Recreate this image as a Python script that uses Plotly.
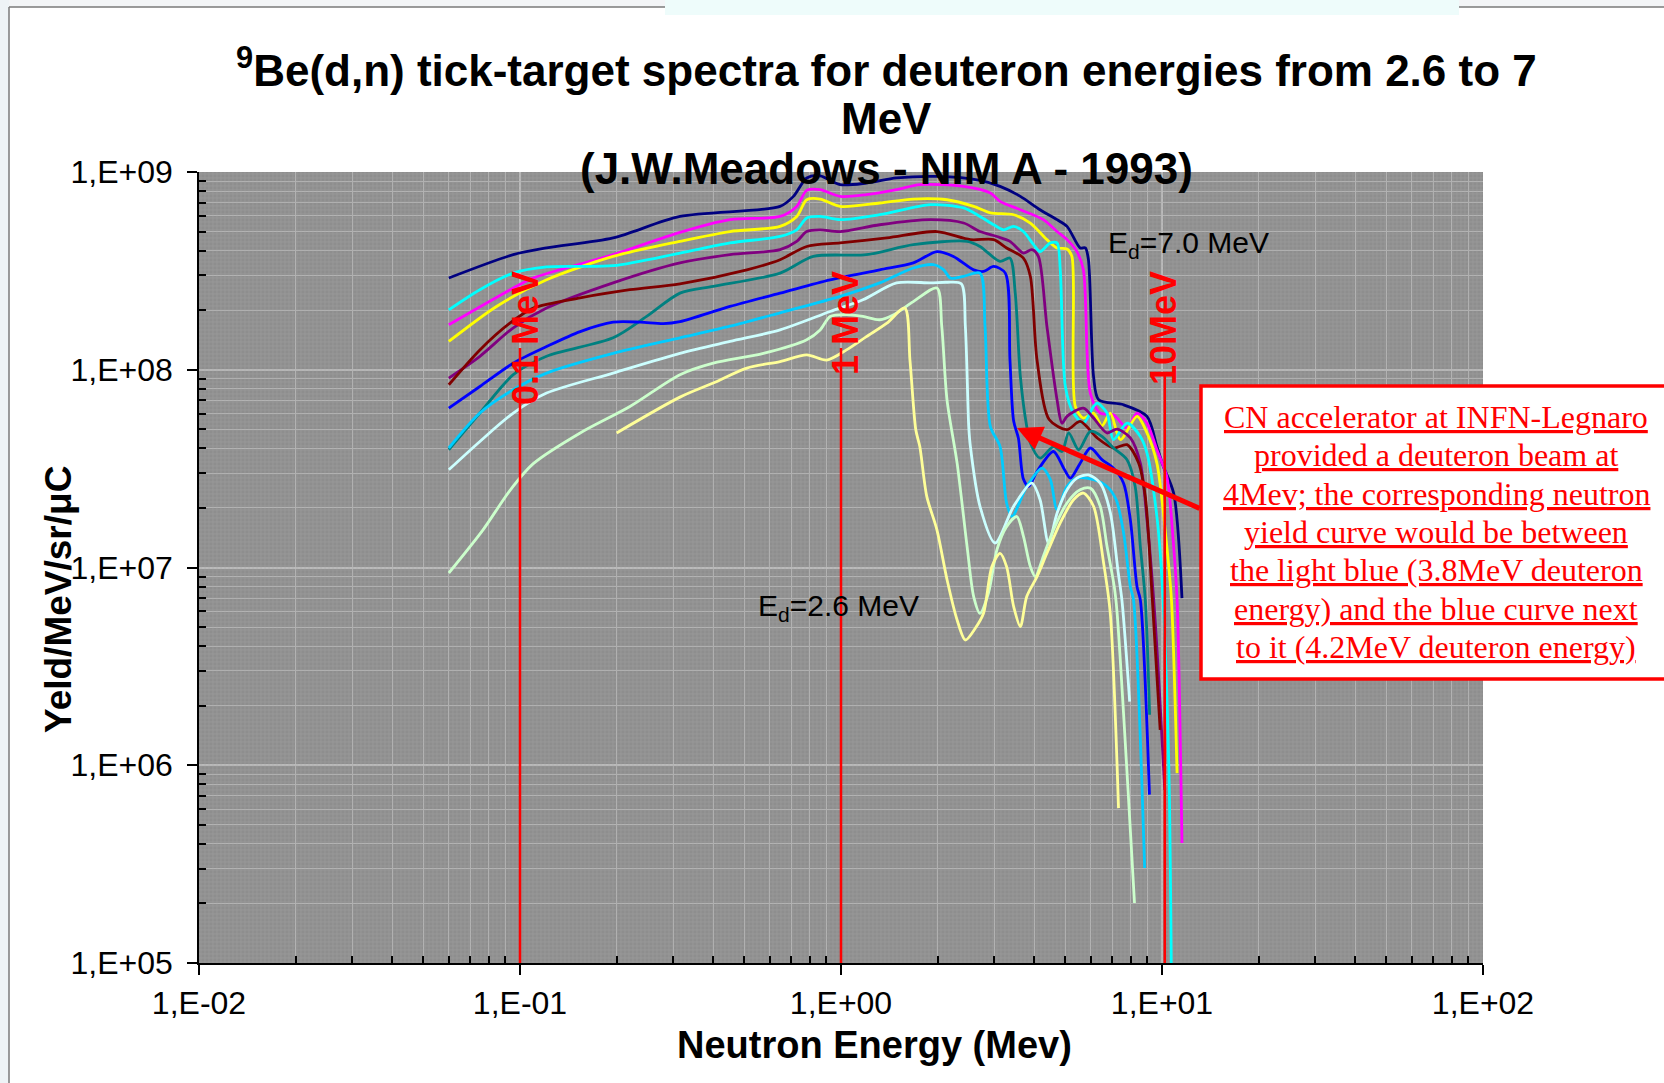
import plotly.graph_objects as go

# ---------------------------------------------------------------------------
# Thick-target 9Be(d,n) neutron yield spectra, one curve per deuteron energy
# ---------------------------------------------------------------------------
deuteron_energies = ["7.0", "6.6", "6.2", "5.8", "5.4", "5.0",
                     "4.6", "4.2", "3.8", "3.4", "3.0", "2.6"]
series_colors = ["#000080", "#FF00FF", "#FFFF00", "#00FFFF", "#800080", "#800000",
                 "#008080", "#0000FF", "#00CCFF", "#CCFFFF", "#CCFFCC", "#FFFF99"]

# neutron energy (MeV) / yield (n/MeV/sr/uC)
e_70 = [0.06, 0.0953, 0.121, 0.195, 0.315, 0.646, 0.711, 0.782, 0.861, 0.994, 1.2, 1.49, 2.0,
        2.71, 3.13, 3.62, 4.17, 4.71, 5.06, 5.56, 5.77, 5.9, 6.12, 6.35, 7.59, 8.98, 9.64,
        10.1, 10.87, 11.54]
y_70 = [2.91e8, 3.82e8, 4.13e8, 4.64e8, 5.96e8, 6.7e8, 7.53e8, 9.33e8, 9.57e8, 8.63e8, 8.79e8,
        9.33e8, 9.5e8, 9.07e8, 8.46e8, 7.53e8, 6.44e8, 5.74e8, 5.31e8, 4.13e8, 4.13e8, 3.6e8,
        9.25e7, 7.05e7, 6.65e7, 5.81e7, 4.09e7, 3.24e7, 2.38e7, 7.0e6]

e_66 = [0.06, 0.0953, 0.11, 0.195, 0.315, 0.451, 0.646, 0.728, 0.782, 0.861, 0.994, 1.2, 1.49,
        1.76, 2.41, 2.92, 3.13, 3.62, 4.27, 4.71, 5.06, 5.43, 5.69, 5.98, 6.42, 7.06, 7.78,
        8.36, 8.98, 9.64, 10.35, 10.87, 11.14, 11.54]
y_66 = [1.69e8, 2.59e8, 2.91e8, 3.82e8, 4.95e8, 5.74e8, 5.96e8, 6.7e8, 8.07e8, 8.14e8, 7.53e8,
        7.68e8, 8.14e8, 8.63e8, 8.46e8, 7.83e8, 7.1e8, 6.44e8, 5.74e8, 5.0e8, 4.55e8, 3.96e8,
        3.2e8, 7.62e7, 6.04e7, 5.92e7, 5.07e7, 6.04e7, 5.37e7, 3.94e7, 2.88e7, 1.28e7, 6.9e6,
        4.04e5]

e_62 = [0.06, 0.0845, 0.121, 0.195, 0.315, 0.451, 0.646, 0.728, 0.782, 0.861, 0.994, 1.32,
        1.68, 2.14, 2.59, 2.92, 3.45, 3.89, 4.38, 4.71, 5.06, 5.24, 5.37, 5.69, 6.12, 6.5,
        6.9, 7.42, 8.36, 8.98, 9.64, 10.35, 10.7, 11.14]
y_62 = [1.39e8, 2.09e8, 2.85e8, 3.74e8, 4.46e8, 5.0e8, 5.31e8, 5.96e8, 7.24e8, 7.3e8, 6.7e8,
        6.97e8, 7.3e8, 7.24e8, 6.7e8, 6.21e8, 6.08e8, 5.52e8, 4.55e8, 4.13e8, 4.08e8, 3.74e8,
        6.52e7, 5.7e7, 6.04e7, 5.2e7, 6.04e7, 4.43e7, 5.81e7, 4.79e7, 3.37e7, 1.28e7, 6.9e6,
        9.12e5]

e_58 = [0.06, 0.075, 0.0953, 0.121, 0.195, 0.315, 0.451, 0.646, 0.728, 0.782, 0.861, 0.994,
        1.32, 1.9, 2.41, 2.71, 2.99, 3.21, 3.45, 3.7, 3.98, 4.17, 4.49, 4.71, 4.82, 5.0, 5.3,
        5.69, 6.12, 6.28, 6.74, 7.06, 7.78, 8.56, 8.98, 9.64, 10.0, 10.5, 10.7]
y_58 = [2.01e8, 2.54e8, 3.08e8, 3.31e8, 3.36e8, 3.89e8, 4.38e8, 4.72e8, 5.1e8, 5.85e8, 5.96e8,
        5.74e8, 6.08e8, 6.84e8, 6.58e8, 5.96e8, 5.41e8, 5.1e8, 5.31e8, 5.0e8, 4.29e8, 3.96e8,
        4.38e8, 4.38e8, 3.2e8, 8.23e7, 6.04e7, 5.37e7, 6.52e7, 6.78e7, 6.04e7, 4.43e7, 5.37e7,
        4.6e7, 3.79e7, 1.81e7, 8.67e6, 9.84e5, 7.7e4]

e_54 = [0.06, 0.075, 0.0953, 0.121, 0.195, 0.315, 0.451, 0.646, 0.728, 0.782, 0.861, 0.994,
        1.32, 1.9, 2.41, 2.71, 3.06, 3.36, 3.7, 3.93, 4.12, 4.38, 4.71, 4.88, 5.06, 5.69, 6.12,
        6.74, 7.24, 7.97, 8.56, 8.98, 9.52, 10.2]
y_54 = [9.08e7, 1.17e8, 1.63e8, 2.05e8, 2.75e8, 3.47e8, 3.82e8, 4.05e8, 4.46e8, 5.0e8, 5.1e8,
        5.0e8, 5.41e8, 5.74e8, 5.52e8, 5.0e8, 4.72e8, 4.46e8, 3.89e8, 4.05e8, 3.74e8, 1.66e8,
        7.05e7, 5.37e7, 5.81e7, 6.4e7, 5.7e7, 4.79e7, 5.01e7, 4.52e7, 3.37e7, 1.74e7, 5.4e6,
        7.5e5]

e_50 = [0.06, 0.075, 0.093, 0.11, 0.154, 0.22, 0.315, 0.509, 0.646, 0.782, 0.994, 1.39, 1.99,
        2.53, 2.99, 3.28, 3.7, 3.89, 4.08, 4.45, 5.06, 5.56, 6.28, 7.06, 7.78, 8.46, 8.87,
        9.33, 9.87]
y_50 = [8.4e7, 1.26e8, 1.72e8, 2.05e8, 2.31e8, 2.54e8, 2.72e8, 3.2e8, 3.6e8, 4.2e8, 4.38e8,
        4.64e8, 5.0e8, 4.55e8, 4.55e8, 4.13e8, 3.67e8, 2.96e8, 1.12e8, 5.6e7, 4.98e7, 5.48e7,
        4.52e7, 4.02e7, 4.18e7, 3.37e7, 2.29e7, 6.9e6, 1.51e6]

e_46 = [0.06, 0.075, 0.0953, 0.121, 0.195, 0.248, 0.315, 0.4, 0.646, 0.82, 1.2, 1.68, 2.47,
        2.71, 3.13, 3.36, 3.49, 3.62, 3.79, 3.89, 4.17, 4.59, 4.88, 5.12, 5.5, 5.98, 6.5, 7.06,
        7.78, 8.25, 8.56, 8.87, 9.15]
y_46 = [3.94e7, 6.04e7, 9.44e7, 1.17e8, 1.45e8, 1.86e8, 2.44e8, 2.64e8, 3.08e8, 3.74e8, 3.82e8,
        4.29e8, 4.46e8, 4.2e8, 3.53e8, 3.67e8, 2.44e8, 9.25e7, 5.16e7, 4.26e7, 3.57e7, 4.09e7,
        3.86e7, 4.79e7, 3.94e7, 4.88e7, 4.6e7, 4.02e7, 3.51e7, 2.57e7, 1.28e7, 6.87e6, 1.8e6]

e_42 = [0.06, 0.075, 0.0953, 0.121, 0.154, 0.195, 0.237, 0.28, 0.315, 0.451, 0.646, 0.925,
        1.32, 1.68, 1.99, 2.24, 2.59, 2.78, 2.99, 3.25, 3.36, 3.45, 3.57, 3.7, 3.84, 4.08,
        4.59, 4.94, 5.18, 5.56, 5.98, 6.5, 7.06, 7.59, 7.97, 8.36, 8.56, 9.14]
y_42 = [6.4e7, 8.23e7, 1.08e8, 1.31e8, 1.56e8, 1.74e8, 1.74e8, 1.71e8, 1.75e8, 2.09e8, 2.44e8,
        2.85e8, 3.2e8, 3.47e8, 3.96e8, 3.74e8, 3.2e8, 3.14e8, 3.33e8, 3.08e8, 1.12e8, 5.5e7,
        4.5e7, 2.8e7, 2.57e7, 3.06e7, 3.86e7, 3.18e7, 2.83e7, 3.37e7, 4.02e7, 3.51e7, 3.18e7,
        2.67e7, 1.74e7, 8.0e6, 6.87e6, 7.1e5]

e_38 = [0.06, 0.075, 0.0953, 0.121, 0.195, 0.315, 0.451, 0.646, 0.994, 1.32, 1.68, 1.94, 2.09,
        2.19, 2.41, 2.71, 2.81, 2.92, 3.13, 3.28, 3.41, 3.79, 4.23, 4.49, 4.71, 5.06, 5.43,
        6.12, 6.74, 7.2, 7.59, 7.97, 8.15, 8.83]
y_38 = [4.02e7, 6.04e7, 7.93e7, 9.62e7, 1.21e8, 1.45e8, 1.66e8, 1.94e8, 2.35e8, 2.75e8, 3.27e8,
        3.4e8, 3.2e8, 2.91e8, 2.97e8, 3.08e8, 1.66e8, 5.16e7, 4.09e7, 2.12e7, 1.81e7, 2.57e7,
        3.18e7, 2.78e7, 1.96e7, 2.57e7, 2.83e7, 2.78e7, 2.57e7, 2.2e7, 1.5e7, 8.0e6, 6.87e6,
        3.02e5]

e_34 = [0.06, 0.075, 0.0953, 0.121, 0.195, 0.315, 0.451, 0.646, 0.925, 1.17, 1.49, 1.9, 2.14,
        2.37, 2.44, 2.5, 2.53, 2.71, 3.02, 3.45, 3.93, 4.17, 4.43, 4.71, 5.06, 5.43, 5.9, 6.42,
        6.9, 7.3, 7.5, 7.93]
y_34 = [3.12e7, 4.34e7, 6.04e7, 7.62e7, 9.62e7, 1.21e8, 1.39e8, 1.59e8, 1.97e8, 2.26e8, 2.75e8,
        2.75e8, 2.77e8, 2.72e8, 1.66e8, 5.16e7, 4.09e7, 2.04e7, 1.33e7, 2.04e7, 2.67e7, 2.2e7,
        1.33e7, 1.88e7, 2.47e7, 2.83e7, 2.94e7, 2.67e7, 1.9e7, 9.5e6, 6.87e6, 2.1e6]

e_30 = [0.06, 0.0767, 0.093, 0.11, 0.154, 0.22, 0.315, 0.4, 0.573, 0.782, 0.861, 0.925, 1.04,
        1.17, 1.32, 1.46, 1.68, 1.99, 2.06, 2.14, 2.3, 2.47, 2.59, 2.71, 2.88, 3.06, 3.28,
        3.53, 3.7, 3.89, 4.03, 4.27, 4.59, 5.06, 5.56, 5.98, 6.42, 6.74, 7.1, 7.24, 8.21]
y_30 = [9.38e6, 1.55e7, 2.45e7, 3.35e7, 4.79e7, 6.52e7, 9.44e7, 1.08e8, 1.21e8, 1.42e8, 1.59e8,
        1.86e8, 1.9e8, 1.86e8, 1.79e8, 1.9e8, 2.21e8, 2.59e8, 1.66e8, 7.0e7, 3.37e7, 1.28e7,
        7.13e6, 5.87e6, 7.43e6, 1.23e7, 1.61e7, 1.81e7, 1.44e7, 1.01e7, 9.0e6, 1.14e7, 1.55e7,
        2.12e7, 2.47e7, 2.52e7, 2.04e7, 1.28e7, 8.0e6, 6.0e6, 2.01e5]

e_26 = [0.2, 0.315, 0.4, 0.509, 0.646, 0.782, 0.903, 1.04, 1.2, 1.39, 1.58, 1.64, 1.71, 1.76,
        1.85, 1.99, 2.14, 2.3, 2.44, 2.62, 2.78, 2.95, 3.13, 3.28, 3.45, 3.62, 3.79, 4.08,
        4.38, 4.82, 5.3, 5.69, 6.12, 6.58, 6.9, 7.32]
y_26 = [4.79e7, 7.27e7, 8.57e7, 1.02e8, 1.1e8, 1.19e8, 1.12e8, 1.26e8, 1.47e8, 1.72e8, 2.05e8,
        1.12e8, 4.97e7, 4.09e7, 2.29e7, 1.55e7, 8.67e6, 5.43e6, 4.3e6, 4.93e6, 5.87e6, 1.01e7,
        1.18e7, 1.01e7, 6.35e6, 5.03e6, 7.13e6, 9.0e6, 1.18e7, 1.68e7, 2.2e7, 2.38e7, 2.04e7,
        1.05e7, 5.87e6, 6.07e5]

spectra_e = [e_70, e_66, e_62, e_58, e_54, e_50, e_46, e_42, e_38, e_34, e_30, e_26]
spectra_y = [y_70, y_66, y_62, y_58, y_54, y_50, y_46, y_42, y_38, y_34, y_30, y_26]

# reference neutron energies marked with vertical red lines
marker_energies = [0.1, 1.0, 10.2]
marker_labels = ["0.1 MeV", "1 MeV", "10MeV"]
marker_tops = [1.29e8, 1.29e8, 9.4e7]

x_tick_vals = [0.01, 0.1, 1, 10, 100]
x_tick_text = ["1,E-02", "1,E-01", "1,E+00", "1,E+01", "1,E+02"]
y_tick_vals = [1e5, 1e6, 1e7, 1e8, 1e9]
y_tick_text = ["1,E+05", "1,E+06", "1,E+07", "1,E+08", "1,E+09"]

callout_lines = [
    "CN accelerator at INFN-Legnaro",
    "provided a deuteron beam at",
    "4Mev; the corresponding neutron",
    "yield curve would be between",
    "the light blue (3.8MeV deuteron",
    "energy) and the blue curve next",
    "to it (4.2MeV deuteron energy)",
]

# ---------------------------------------------------------------------------
# Layout geometry (pixels of the 1664 x 1083 page)
# ---------------------------------------------------------------------------
W, H = 1664, 1083
PL, PR, PT, PB = 199, 1483, 172, 963


def fx(px):
    return (px - PL) / (PR - PL)


def fy(py):
    return (PB - py) / (PB - PT)


SANS = "Liberation Sans, Arial, sans-serif"
SERIF = "Liberation Serif, Times New Roman, serif"

fig = go.Figure()

# fine mesh texture of the plot area
x_lo, x_hi = x_tick_vals[0], x_tick_vals[-1]
y_lo, y_hi = y_tick_vals[0], y_tick_vals[-1]
fig.add_trace(go.Scatter(
    x=[x_lo, x_hi, x_hi, x_lo, x_lo], y=[y_lo, y_lo, y_hi, y_hi, y_lo],
    mode="lines", line=dict(width=0), fill="toself",
    fillcolor="rgba(0,0,0,0)",
    fillpattern=dict(shape="+", size=4, solidity=0.35, fgcolor="#a6a6a6",
                     bgcolor="rgba(0,0,0,0)", fillmode="overlay"),
    hoverinfo="skip", showlegend=False))

for ed, col, xs, ys in zip(deuteron_energies, series_colors, spectra_e, spectra_y):
    fig.add_trace(go.Scatter(
        x=xs, y=ys, mode="lines", name=f"Ed={ed} MeV",
        line=dict(color=col, width=2.8, shape="spline", smoothing=0.8),
        showlegend=False))

for xe, yt in zip(marker_energies, marker_tops):
    fig.add_trace(go.Scatter(
        x=[xe, xe], y=[yt, y_lo], mode="lines",
        line=dict(color="#ff0000", width=2.5), hoverinfo="skip", showlegend=False))

minor_x = [k * 10.0 ** p for p in range(-2, 2) for k in range(2, 10)]
minor_y = [k * 10.0 ** p for p in range(5, 9) for k in range(2, 10)]

axis_common = dict(
    type="log", ticks="outside", ticklen=10, tickwidth=1.5, tickcolor="black",
    showline=True, linecolor="black", linewidth=1.5, mirror=False,
    showgrid=True, gridcolor="#bbbbbb", gridwidth=1.6, zeroline=False,
    tickfont=dict(family=SANS, size=32, color="black"),
)

fig.update_layout(
    width=W, height=H, autosize=False,
    margin=dict(l=PL, r=W - PR, t=PT, b=H - PB, pad=0),
    paper_bgcolor="white", plot_bgcolor="#8e8e8e",
    showlegend=False,
    xaxis=dict(axis_common, range=[-2, 2], tickmode="array",
               tickvals=x_tick_vals, ticktext=x_tick_text, ticklabelstandoff=1,
               minor=dict(tickmode="array", tickvals=minor_x, ticks="inside",
                          ticklen=7, tickcolor="black", showgrid=True,
                          gridcolor="#b3b3b3", gridwidth=1.3)),
    yaxis=dict(axis_common, range=[5, 9], tickmode="array",
               tickvals=y_tick_vals, ticktext=y_tick_text, ticklabelstandoff=8,
               minor=dict(tickmode="array", tickvals=minor_y, ticks="inside",
                          ticklen=7, tickcolor="black", showgrid=True,
                          gridcolor="#b3b3b3", gridwidth=1.3)),
)

shapes = [
    # slide background strips and frame
    dict(type="rect", xref="paper", yref="paper", x0=fx(0), x1=fx(9), y0=fy(H), y1=fy(0),
         fillcolor="#eef3f6", line=dict(width=0), layer="below"),
    dict(type="rect", xref="paper", yref="paper", x0=fx(9), x1=fx(W), y0=fy(7), y1=fy(0),
         fillcolor="#f3f5f7", line=dict(width=0), layer="below"),
    dict(type="line", xref="paper", yref="paper", x0=fx(9), x1=fx(W), y0=fy(7), y1=fy(7),
         line=dict(color="#7a7a7a", width=1.5)),
    dict(type="line", xref="paper", yref="paper", x0=fx(9), x1=fx(9), y0=fy(7), y1=fy(H),
         line=dict(color="#7a7a7a", width=1.5)),
    dict(type="rect", xref="paper", yref="paper", x0=fx(665), x1=fx(1459), y0=fy(15), y1=fy(0),
         fillcolor="#eefcfb", line=dict(width=0)),
    # callout box
    dict(type="rect", xref="paper", yref="paper", x0=fx(1201), x1=fx(1676),
         y0=fy(679), y1=fy(386), fillcolor="white", line=dict(color="#ff0000", width=3.5)),
]
fig.update_layout(shapes=shapes)

ann = []
# chart title
title_lines = [
    ("<sup>9</sup>Be(d,n) tick-target spectra for deuteron energies from 2.6 to 7", 67),
    ("MeV", 118),
    ("(J.W.Meadows - NIM A - 1993)", 169),
]
for txt, yc in title_lines:
    ann.append(dict(text=f"<b>{txt}</b>", xref="paper", yref="paper", x=fx(887), y=fy(yc),
                    xanchor="center", yanchor="middle", showarrow=False,
                    font=dict(family=SANS, size=44, color="black")))

# axis titles
ann.append(dict(text="<b>Neutron Energy (Mev)</b>", xref="paper", yref="paper",
                x=fx(874), y=fy(1045), xanchor="center", yanchor="middle", showarrow=False,
                font=dict(family=SANS, size=38, color="black")))
ann.append(dict(text="<b>Yeld/MeV/sr/μC</b>", xref="paper", yref="paper",
                x=fx(58), y=fy(600), xanchor="center", yanchor="middle", showarrow=False,
                textangle=-90, font=dict(family=SANS, size=37, color="black")))

# labels of the reference energy lines
for lab, xc, yc in zip(marker_labels, [525, 845, 1163], [338, 323, 328]):
    ann.append(dict(text=f"<b>{lab}</b>", xref="paper", yref="paper", x=fx(xc), y=fy(yc),
                    xanchor="center", yanchor="middle", showarrow=False, textangle=-90,
                    font=dict(family=SANS, size=36, color="#ff0000")))

# deuteron energy labels of the extreme curves
ann.append(dict(text="E<sub>d</sub>=7.0 MeV", xref="paper", yref="paper",
                x=fx(1106), y=fy(244), xanchor="left", yanchor="middle", showarrow=False,
                font=dict(family=SANS, size=30, color="black")))
ann.append(dict(text="E<sub>d</sub>=2.6 MeV", xref="paper", yref="paper",
                x=fx(756), y=fy(607), xanchor="left", yanchor="middle", showarrow=False,
                font=dict(family=SANS, size=30, color="black")))

# callout text
for i, line in enumerate(callout_lines):
    ann.append(dict(text=line, xref="paper", yref="paper", x=fx(1436), y=fy(417 + i * 38.3),
                    xanchor="center", yanchor="middle", showarrow=False,
                    font=dict(family=SERIF, size=32, color="#ff0000", lineposition="under")))

# arrow from the callout to the 3.8-4.2 MeV curves
ann.append(dict(text="", xref="paper", yref="paper", x=fx(1017), y=fy(428),
                ax=1201 - 1017, ay=509 - 428, showarrow=True, arrowhead=2, arrowsize=1.0,
                arrowwidth=5, arrowcolor="#ff0000", standoff=0))

fig.update_layout(annotations=ann)

fig.write_html("out.html")
